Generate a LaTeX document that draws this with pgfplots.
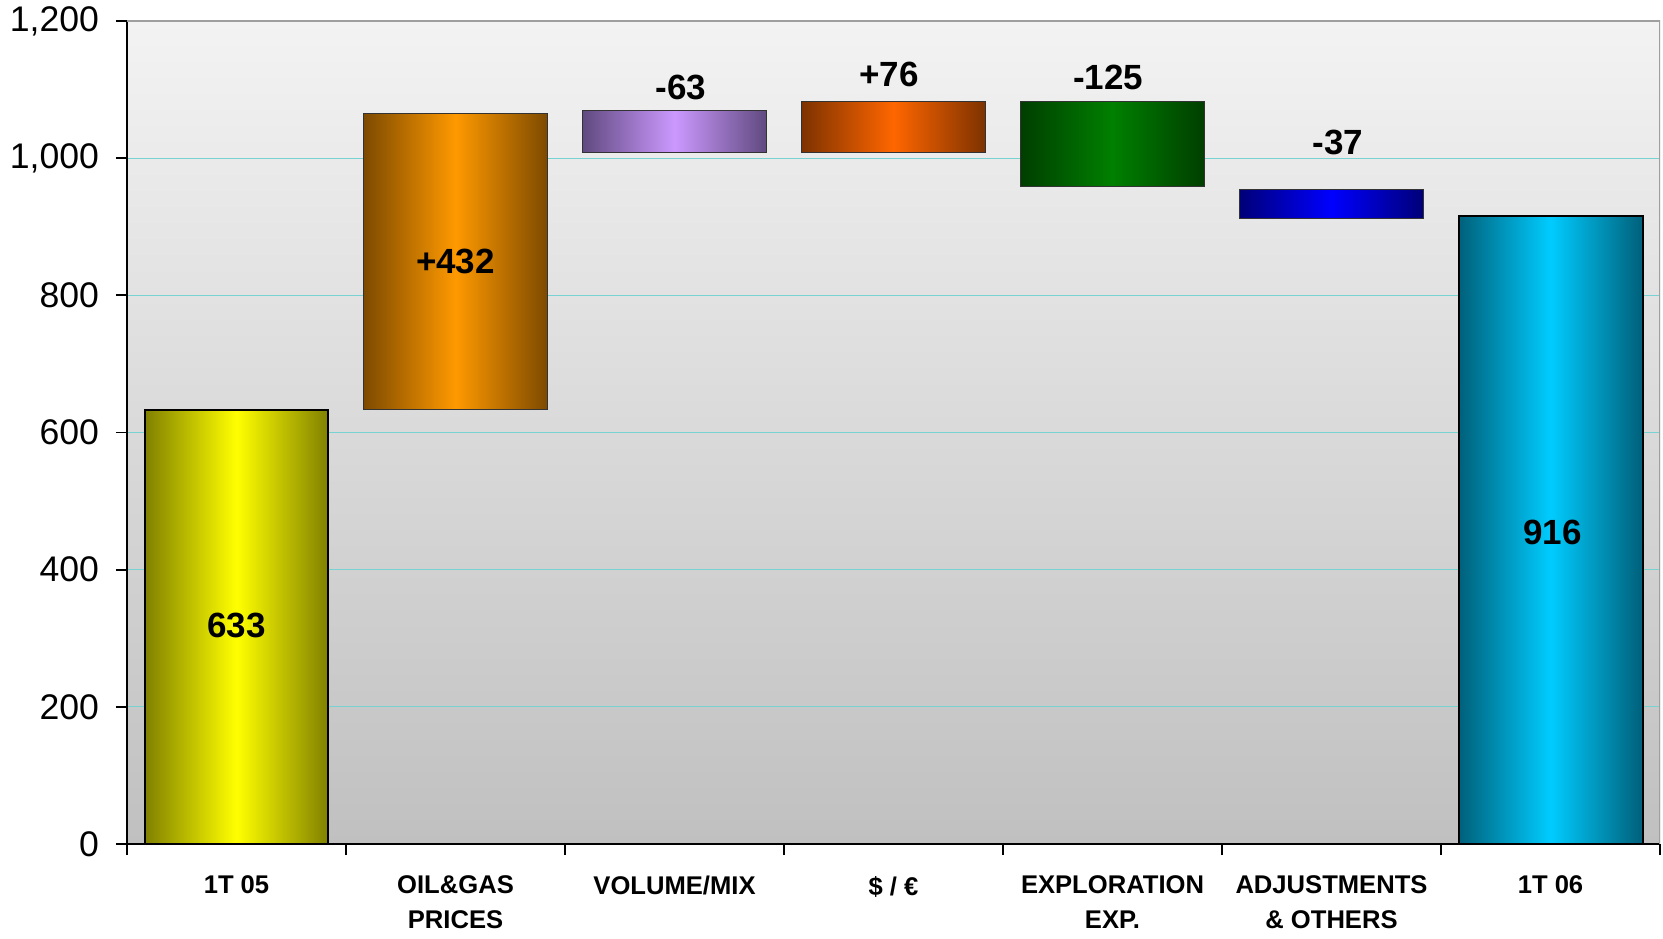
\documentclass[border=0pt]{standalone}
\usepackage{pgfplots}
\pgfplotsset{compat=1.18}
\usepackage{fontspec}
\setmainfont{Liberation Sans}
\definecolor{bgtop}{RGB}{243,243,243}
\definecolor{bgbot}{RGB}{192,192,192}
\definecolor{gridc}{RGB}{120,210,210}
\definecolor{yelE}{RGB}{128,128,0}
\definecolor{yelM}{RGB}{255,255,0}
\definecolor{orgE}{RGB}{125,74,0}
\definecolor{orgM}{RGB}{255,153,0}
\definecolor{purE}{RGB}{96,74,128}
\definecolor{purM}{RGB}{204,153,255}
\definecolor{redE}{RGB}{125,50,0}
\definecolor{redM}{RGB}{255,102,0}
\definecolor{grnE}{RGB}{0,62,0}
\definecolor{grnM}{RGB}{0,128,0}
\definecolor{bluE}{RGB}{0,0,120}
\definecolor{bluM}{RGB}{0,0,255}
\definecolor{cyE}{RGB}{0,96,122}
\definecolor{cyM}{RGB}{0,204,255}
\tikzset{lab/.style={font=\fontsize{17.5}{20}\selectfont\bfseries}}
\begin{document}
\begin{tikzpicture}
\begin{axis}[
  scale only axis, width=766.5pt, height=411.5pt,
  xmin=-0.5, xmax=6.5, ymin=0, ymax=1200,
  axis x line=bottom, axis y line=left,
  axis line style={-, black, line width=1pt},
  axis background/.style={top color=bgtop, bottom color=bgbot},
  ytick={0,200,...,1200},
  ymajorgrids, grid style={gridc, line width=0.6pt},
  xtick={-0.5,0.5,...,6.5},
  x tick label as interval,
  xticklabels={{1T 05},{OIL\&GAS\\PRICES},{VOLUME/MIX},{\$ / €},{EXPLORATION\\EXP.},{ADJUSTMENTS\\\& OTHERS},{1T 06}},
  tick align=outside, major tick length=5.5pt,
  tick style={black, line width=0.9pt},
  /pgf/number format/.cd, 1000 sep={,}, assume math mode=true, /pgfplots/.cd,
  yticklabel style={font=\fontsize{17.8}{20}\selectfont, xshift=-5pt},
  xticklabel style={font=\fontsize{12.8}{17.5}\selectfont\bfseries, align=center, yshift=-7pt},
]
\addplot[draw=black, line width=1pt, left color=yelE, right color=yelE, middle color=yelM]
  coordinates {(-0.42,0) (0.42,0) (0.42,633) (-0.42,633)} -- cycle;
\addplot[draw=black!80, line width=0.5pt, left color=orgE, right color=orgE, middle color=orgM]
  coordinates {(0.58,633) (1.42,633) (1.42,1065) (0.58,1065)} -- cycle;
\addplot[draw=black!80, line width=0.5pt, left color=purE, right color=purE, middle color=purM]
  coordinates {(1.58,1008) (2.42,1008) (2.42,1070) (1.58,1070)} -- cycle;
\addplot[draw=black!80, line width=0.5pt, left color=redE, right color=redE, middle color=redM]
  coordinates {(2.58,1008) (3.42,1008) (3.42,1083) (2.58,1083)} -- cycle;
\addplot[draw=black!80, line width=0.5pt, left color=grnE, right color=grnE, middle color=grnM]
  coordinates {(3.58,958) (4.42,958) (4.42,1083) (3.58,1083)} -- cycle;
\addplot[draw=black!80, line width=0.5pt, left color=bluE, right color=bluE, middle color=bluM]
  coordinates {(4.58,912) (5.42,912) (5.42,955) (4.58,955)} -- cycle;
\addplot[draw=black, line width=1pt, left color=cyE, right color=cyE, middle color=cyM]
  coordinates {(5.58,0) (6.42,0) (6.42,916) (5.58,916)} -- cycle;
\node[lab] at (axis cs:0,318) {633};
\node[lab] at (axis cs:1,849) {+432};
\node[lab] at (axis cs:2.03,1103) {-63};
\node[lab] at (axis cs:2.98,1122) {+76};
\node[lab] at (axis cs:3.98,1117) {-125};
\node[lab] at (axis cs:5.03,1023) {-37};
\node[lab] at (axis cs:6.01,455) {916};
\draw[gray!75, line width=0.8pt] (rel axis cs:0,1) -- (rel axis cs:1,1) -- (rel axis cs:1,0);
\coordinate (SW) at (rel axis cs:0,0);
\coordinate (NE) at (rel axis cs:1,1);
\end{axis}
\pgfresetboundingbox
\path ([shift={(-63.5pt,-47pt)}]SW) rectangle ([shift={(1.5pt,10.5pt)}]NE);
\end{tikzpicture}
\end{document}
